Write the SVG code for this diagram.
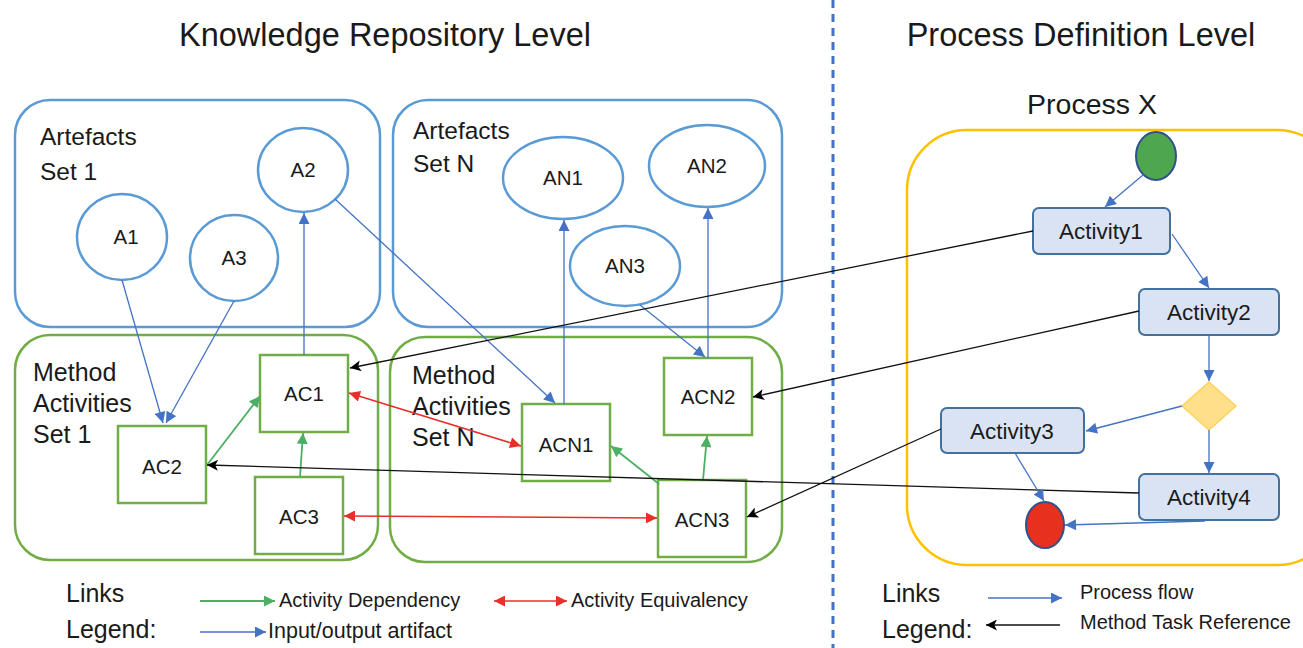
<svg xmlns="http://www.w3.org/2000/svg" width="1303" height="648" viewBox="0 0 1303 648">
<style>
text{font-family:"Liberation Sans",Arial,sans-serif;fill:#1a1a1a}
.title{font-size:32.5px}
.grp{font-size:24.5px}
.mgrp{font-size:25px}
.lbl{font-size:20.5px;text-anchor:middle}
.act{font-size:22.5px;text-anchor:middle}
.leg{font-size:25px}
.lsm{font-size:20px}
.lsm2{font-size:21.5px}
.bbox{fill:#fff;stroke:#5B9BD5;stroke-width:2.5}
.gbox{fill:#fff;stroke:#70AD47;stroke-width:2.5}
.art{fill:#fff;stroke:#5B9BD5;stroke-width:2.5}
.mac{fill:#fff;stroke:#70AD47;stroke-width:2.5}
.pa{fill:#DAE3F3;stroke:#41719C;stroke-width:2}
.cb{stroke:#4472C4;stroke-width:1.3;fill:none;marker-end:url(#mb)}
.cg{stroke:#4CAF63;stroke-width:1.8;fill:none;marker-end:url(#mg)}
.cr{stroke:#E8302A;stroke-width:1.6;fill:none;marker-end:url(#mr);marker-start:url(#mr)}
.ck{stroke:#111;stroke-width:1.3;fill:none;marker-end:url(#mk)}
</style>
<defs>
<marker id="mb" viewBox="0 0 10 10" refX="10" refY="5" markerWidth="13" markerHeight="11" markerUnits="userSpaceOnUse" orient="auto-start-reverse"><path d="M0,0 L10,5 L0,10 z" fill="#4472C4"/></marker>
<marker id="mg" viewBox="0 0 10 10" refX="10" refY="5" markerWidth="13" markerHeight="11" markerUnits="userSpaceOnUse" orient="auto-start-reverse"><path d="M0,0 L10,5 L0,10 z" fill="#4CAF63"/></marker>
<marker id="mr" viewBox="0 0 10 10" refX="10" refY="5" markerWidth="13" markerHeight="11" markerUnits="userSpaceOnUse" orient="auto-start-reverse"><path d="M0,0 L10,5 L0,10 z" fill="#E8302A"/></marker>
<marker id="mk" viewBox="0 0 10 10" refX="10" refY="5" markerWidth="14" markerHeight="11" markerUnits="userSpaceOnUse" orient="auto-start-reverse"><path d="M0,0 L10,5 L0,10 L2.5,5 z" fill="#000"/></marker>
</defs>
<rect width="1303" height="648" fill="#fff"/>

<g id="titles">
<text class="title" x="385" y="46" text-anchor="middle">Knowledge Repository Level</text>
<text class="title" x="1081" y="46" text-anchor="middle">Process Definition Level</text>
</g>
<line x1="833" y1="0" x2="833" y2="648" stroke="#4472C4" stroke-width="3" stroke-dasharray="8,6"/>

<g id="artefacts-set-1">
<rect class="bbox" x="15" y="100" width="365" height="227" rx="35"/>
<text class="grp" x="40" y="145">Artefacts</text>
<text class="grp" x="40" y="180">Set 1</text>
</g>
<g id="artefacts-set-n">
<rect class="bbox" x="393" y="100" width="389" height="227" rx="35"/>
<text class="grp" x="413" y="139">Artefacts</text>
<text class="grp" x="413" y="172">Set N</text>
</g>
<g id="method-set-1">
<rect class="gbox" x="15" y="335" width="363" height="225" rx="35"/>
<text class="mgrp" x="33" y="381">Method</text>
<text class="mgrp" x="33" y="412">Activities</text>
<text class="mgrp" x="33" y="443">Set 1</text>
</g>
<g id="method-set-n">
<rect class="gbox" x="390" y="337" width="392" height="225" rx="35"/>
<text class="mgrp" x="412" y="384">Method</text>
<text class="mgrp" x="412" y="415">Activities</text>
<text class="mgrp" x="412" y="446">Set N</text>
</g>

<g id="A1"><ellipse class="art" cx="122" cy="237" rx="45" ry="43"/><text class="lbl" x="126" y="244">A1</text></g>
<g id="A2"><ellipse class="art" cx="303" cy="170" rx="45" ry="42"/><text class="lbl" x="303" y="177">A2</text></g>
<g id="A3"><ellipse class="art" cx="234" cy="258" rx="44" ry="43"/><text class="lbl" x="234" y="265">A3</text></g>
<g id="AN1"><ellipse class="art" cx="563" cy="178" rx="60" ry="41"/><text class="lbl" x="563" y="185">AN1</text></g>
<g id="AN2"><ellipse class="art" cx="707" cy="166" rx="58" ry="41"/><text class="lbl" x="707" y="173">AN2</text></g>
<g id="AN3"><ellipse class="art" cx="625" cy="266" rx="55" ry="40"/><text class="lbl" x="625" y="273">AN3</text></g>

<g id="AC1"><rect class="mac" x="260" y="355" width="88" height="77"/><text class="lbl" x="304" y="401">AC1</text></g>
<g id="AC2"><rect class="mac" x="118" y="426" width="88" height="77"/><text class="lbl" x="162" y="474">AC2</text></g>
<g id="AC3"><rect class="mac" x="255" y="477" width="88" height="77"/><text class="lbl" x="299" y="524">AC3</text></g>
<g id="ACN1"><rect class="mac" x="522" y="404" width="88" height="77"/><text class="lbl" x="566" y="452">ACN1</text></g>
<g id="ACN2"><rect class="mac" x="664" y="358" width="88" height="77"/><text class="lbl" x="708" y="404">ACN2</text></g>
<g id="ACN3"><rect class="mac" x="658" y="480" width="88" height="77"/><text class="lbl" x="702" y="527">ACN3</text></g>

<g id="process-x">
<text x="1092" y="114" font-size="28.5" text-anchor="middle">Process X</text>
<rect x="907" y="130" width="430" height="435" rx="60" fill="none" stroke="#FFC000" stroke-width="2.5"/>
</g>
<g id="start"><ellipse cx="1156" cy="156" rx="20" ry="24" fill="#4EA74E" stroke="#2F528F" stroke-width="2"/></g>
<g id="end"><ellipse cx="1045" cy="525" rx="19" ry="23" fill="#E8301F" stroke="#2F528F" stroke-width="2"/></g>
<g id="Activity1"><rect class="pa" x="1033" y="208" width="137" height="46" rx="6"/><text class="act" x="1101" y="239">Activity1</text></g>
<g id="Activity2"><rect class="pa" x="1139" y="289" width="140" height="46" rx="6"/><text class="act" x="1209" y="320">Activity2</text></g>
<g id="Activity3"><rect class="pa" x="941" y="408" width="143" height="45" rx="6"/><text class="act" x="1012" y="439">Activity3</text></g>
<g id="Activity4"><rect class="pa" x="1139" y="474" width="140" height="46" rx="6"/><text class="act" x="1209" y="505">Activity4</text></g>
<g id="decision"><path d="M1209,382 L1236,406 L1209,430 L1182,406 z" fill="#FFE08A" stroke="#FFD35C" stroke-width="1.5"/></g>

<g id="connectors">
<line class="cb" x1="122" y1="280" x2="163" y2="423"/>
<line class="cb" x1="234" y1="301" x2="166" y2="423"/>
<line class="cb" x1="304" y1="355" x2="304" y2="213"/>
<line class="cb" x1="335" y1="199" x2="555" y2="403"/>
<line class="cb" x1="564" y1="404" x2="564" y2="220"/>
<line class="cb" x1="640" y1="305" x2="705" y2="357"/>
<line class="cb" x1="708" y1="358" x2="708" y2="208"/>

<line class="cg" x1="207" y1="465" x2="260" y2="396"/>
<line class="cg" x1="300" y1="477" x2="303" y2="433"/>
<line class="cg" x1="659" y1="484" x2="611" y2="446"/>
<line class="cg" x1="703" y1="480" x2="707" y2="436"/>

<line class="cr" x1="349" y1="393" x2="521" y2="446"/>
<line class="cr" x1="344" y1="516" x2="657" y2="518"/>

<line class="ck" x1="1033" y1="231" x2="350" y2="368"/>
<line class="ck" x1="1139" y1="311" x2="753" y2="397"/>
<line class="ck" x1="941" y1="429" x2="747" y2="517"/>
<line class="ck" x1="1139" y1="493" x2="207" y2="465"/>

<line class="cb" x1="1143" y1="175" x2="1105" y2="207"/>
<line class="cb" x1="1172" y1="234" x2="1209" y2="288"/>
<line class="cb" x1="1209" y1="335" x2="1209" y2="381"/>
<line class="cb" x1="1182" y1="406" x2="1086" y2="431"/>
<line class="cb" x1="1209" y1="430" x2="1209" y2="473"/>
<line class="cb" x1="1015" y1="453" x2="1044" y2="501"/>
<line class="cb" x1="1205" y1="521" x2="1065" y2="525"/>
</g>

<g id="legend-left">
<text class="leg" x="66" y="602">Links</text>
<text class="leg" x="66" y="638">Legend:</text>
<line class="cg" x1="200" y1="601" x2="275" y2="601"/>
<text class="lsm" x="279" y="607">Activity Dependency</text>
<line class="cr" x1="494" y1="601" x2="567" y2="601"/>
<text class="lsm" x="571" y="607">Activity Equivalency</text>
<line class="cb" x1="200" y1="632" x2="266" y2="632"/>
<text class="lsm2" x="268" y="638">Input/output artifact</text>
</g>
<g id="legend-right">
<text class="leg" x="882" y="602">Links</text>
<text class="leg" x="882" y="638">Legend:</text>
<line class="cb" x1="988" y1="598" x2="1062" y2="598"/>
<text class="lsm" x="1080" y="599">Process flow</text>
<line class="ck" x1="1060" y1="625" x2="986" y2="625"/>
<text class="lsm" x="1080" y="629">Method Task Reference</text>
</g>
</svg>
